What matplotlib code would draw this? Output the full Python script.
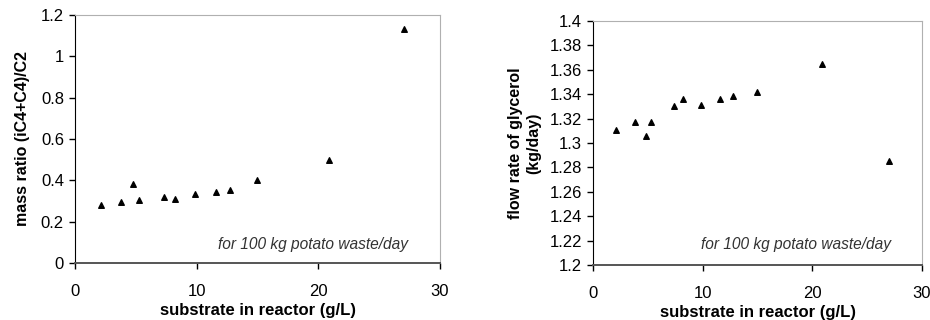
import numpy as np
import matplotlib.pyplot as plt

plt.rcParams['font.family'] = ['Liberation Sans', 'DejaVu Sans']

# substrate concentration in reactor (g/L)
substrate = [2.1, 3.8, 4.8, 5.3, 7.35, 8.2, 9.85, 11.6, 12.75, 14.95, 20.85, 27.0]
# mass ratio (iC4+C4)/C2
mass_ratio = [0.283, 0.296, 0.382, 0.307, 0.320, 0.311, 0.335, 0.343, 0.354, 0.401, 0.500, 1.134]
# flow rate of glycerol (kg/day)
glycerol = [1.311, 1.317, 1.306, 1.317, 1.330, 1.336, 1.331, 1.336, 1.3385, 1.342, 1.365, 1.285]

note = 'for 100 kg potato waste/day'
xlabel = 'substrate in reactor (g/L)'

fig = plt.figure(figsize=(9.3, 3.2), dpi=100)
ax1 = fig.add_axes([75/930, 1 - 263/320, 365/930, 248/320])
ax2 = fig.add_axes([593/930, 1 - 265/320, 329/930, 244/320])

def style(ax):
    ax.spines['top'].set_color('#b0b0b0')
    ax.spines['right'].set_color('#b0b0b0')
    ax.spines['left'].set_color('black')
    ax.spines['bottom'].set_color('#555555')
    ax.spines['bottom'].set_linewidth(1.4)
    ax.tick_params(direction='out', length=4, width=1, labelsize=12, color='black')
    ax.tick_params(axis='x', pad=11)
    ax.tick_params(axis='y', pad=4)
    ax.set_xlim(0, 30)
    ax.set_xticks([0, 10, 20, 30])
    ax.set_xlabel(xlabel, fontsize=12, fontweight='bold', labelpad=3)

# left chart
ax1.scatter(substrate, mass_ratio, marker='^', s=16, color='black', zorder=3)
style(ax1)
ax1.set_ylim(0, 1.2)
ax1.set_yticks([0, 0.2, 0.4, 0.6, 0.8, 1.0, 1.2])
ax1.set_yticklabels(['0', '0.2', '0.4', '0.6', '0.8', '1', '1.2'])
ax1.set_ylabel('mass ratio (iC4+C4)/C2', fontsize=11.5, fontweight='bold', labelpad=8)
ax1.text(0.912, 0.075, note, transform=ax1.transAxes, ha='right', va='center',
         fontsize=11.2, style='italic', color='#333333')

# right chart
ax2.scatter(substrate, glycerol, marker='^', s=16, color='black', zorder=3)
style(ax2)
ax2.set_ylim(1.2, 1.4)
yt = np.round(np.arange(1.2, 1.401, 0.02), 2)
ax2.set_yticks(yt)
ax2.set_yticklabels(['%g' % v for v in yt])
ax2.set_ylabel('flow rate of glycerol\n(kg/day)', fontsize=11.5, fontweight='bold', labelpad=6,
               linespacing=1.25)
ax2.text(0.906, 0.082, note, transform=ax2.transAxes, ha='right', va='center',
         fontsize=11.2, style='italic', color='#333333')

fig.savefig('out.png', dpi=100)
